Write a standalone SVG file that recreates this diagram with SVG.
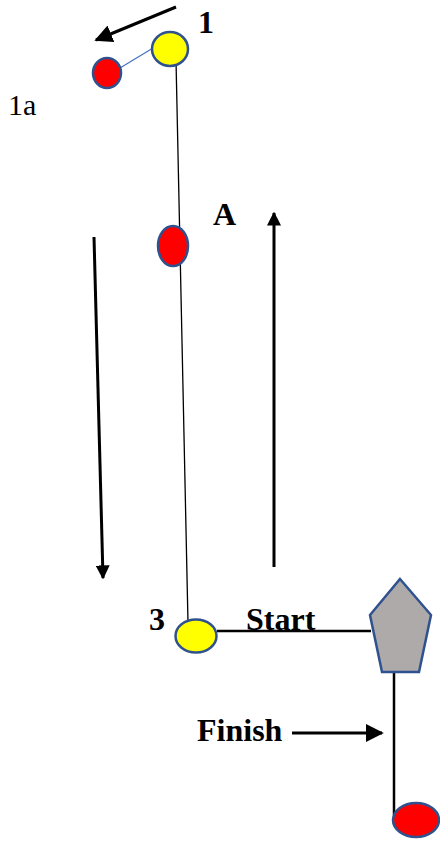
<svg xmlns="http://www.w3.org/2000/svg" width="440" height="841" viewBox="0 0 440 841">
<defs>
<style>
.lbl{font-family:"Liberation Serif","Times New Roman",serif;font-size:32px;font-weight:bold;fill:#000}
.lbln{font-family:"Liberation Serif","Times New Roman",serif;font-size:30px;font-weight:normal;fill:#000}
.mk{stroke:#2F528F;stroke-width:2.5}
.arr{stroke:#000;stroke-width:3;fill:none}
</style>
<marker id="ah" viewBox="0 0 10 10" refX="9" refY="5" markerWidth="14" markerHeight="14" markerUnits="userSpaceOnUse" orient="auto">
<path d="M0,0 L10,5 L0,10 z" fill="#000"/>
</marker>
<marker id="ahb" viewBox="0 0 10 10" refX="9" refY="5" markerWidth="18" markerHeight="18" markerUnits="userSpaceOnUse" orient="auto">
<path d="M0,0 L10,5 L0,10 z" fill="#000"/>
</marker>
</defs>
<g id="connectors">
<line x1="176" y1="60" x2="188" y2="623" stroke="#000" stroke-width="1.3"/>
<line x1="120" y1="68" x2="163" y2="42" stroke="#4472C4" stroke-width="1.2"/>
<line x1="217" y1="631" x2="371" y2="631" stroke="#000" stroke-width="2.5"/>
<line x1="394" y1="672" x2="394" y2="815" stroke="#000" stroke-width="2.5"/>
<line class="arr" x1="176" y1="7" x2="96" y2="40" marker-end="url(#ahb)"/>
<line class="arr" x1="94" y1="237" x2="103" y2="578" marker-end="url(#ah)"/>
<line class="arr" x1="274" y1="567" x2="274" y2="213" marker-end="url(#ah)"/>
<line class="arr" x1="292" y1="733" x2="382" y2="733" stroke-width="2.5" marker-end="url(#ahb)"/>
</g>
<g id="node-1a">
<ellipse class="mk" cx="107" cy="73" rx="14" ry="15" fill="#FF0000"/>
</g>
<g id="node-1">
<ellipse class="mk" cx="170" cy="49" rx="18" ry="17" fill="#FFFF00"/>
</g>
<g id="node-A">
<ellipse class="mk" cx="173" cy="246" rx="15" ry="20" fill="#FF0000"/>
</g>
<g id="node-3">
<ellipse class="mk" cx="196" cy="636" rx="20.5" ry="16.5" fill="#FFFF00"/>
</g>
<g id="node-boat">
<polygon class="mk" points="400,579 431,615 419,672 382,672 370,615" fill="#AEAAAA"/>
</g>
<g id="node-finish">
<ellipse class="mk" cx="416" cy="820" rx="23" ry="17" fill="#FF0000"/>
</g>
<g id="labels">
<text class="lbl" x="198" y="33">1</text>
<text class="lbln" x="8" y="115">1a</text>
<text class="lbl" x="213" y="225">A</text>
<text class="lbl" x="149" y="630">3</text>
<text class="lbl" x="246" y="630">Start</text>
<text class="lbl" x="197" y="741">Finish</text>
</g>
</svg>
